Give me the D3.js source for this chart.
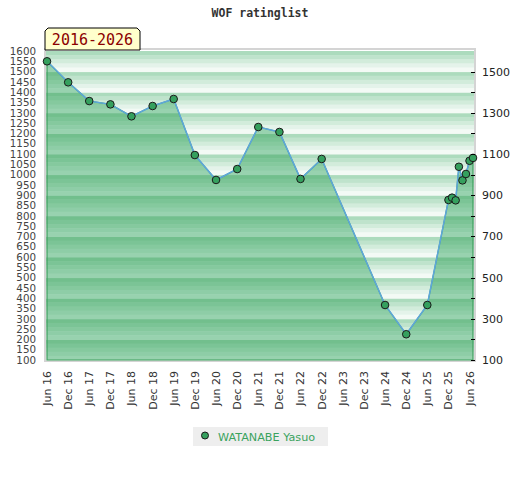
<!DOCTYPE html>
<html><head><meta charset="utf-8">
<script src="https://cdn.jsdelivr.net/npm/d3@7/dist/d3.min.js"></script>
<style>body{margin:0;background:#fff}svg{display:block}</style>
</head><body>
<svg id="c" width="520" height="480"></svg>
<script>
const title = "WOF ratinglist";
const periodLabel = "2016-2026";
const seriesName = "WATANABE Yasuo";
const dates = ["2016-06","2016-12","2017-06","2017-12","2018-06","2018-12","2019-06","2019-12","2020-06","2020-12","2021-06","2021-12","2022-06","2022-12","2024-06","2024-12","2025-06","2025-12","2026-01","2026-02","2026-03","2026-04","2026-05","2026-06","2026-07"];
const ratings = [1550,1448,1357,1341,1283,1333,1367,1095,974,1027,1231,1207,979,1076,367,225,367,877,888,875,1038,972,1003,1067,1081];
const xTickLabels = ["Jun 16","Dec 16","Jun 17","Dec 17","Jun 18","Dec 18","Jun 19","Dec 19","Jun 20","Dec 20","Jun 21","Dec 21","Jun 22","Dec 22","Jun 23","Dec 23","Jun 24","Dec 24","Jun 25","Dec 25","Jun 26"];
const leftTicks = d3.range(100, 1601, 50);
const rightTicks = d3.range(100, 1501, 100);
const rightLabels = [100,300,500,700,900,1100,1300,1500];

const parseM = d3.timeParse("%Y-%m");
const parseT = d3.timeParse("%b %y");
const data = dates.map((d,i)=>({date:parseM(d), v:ratings[i]}));

const L=47, R=473, T=51, B=360;
const x = d3.scaleTime().domain([parseM("2016-06"), parseM("2026-07")]).range([L,R]);
const y = d3.scaleLinear().domain([100,1600]).range([B,T]);

const svg = d3.select("#c");
const defs = svg.append("defs");

// title
svg.append("text").attr("x",260).attr("y",17).attr("text-anchor","middle")
  .attr("font-family","DejaVu Sans Mono").attr("font-weight","bold").attr("font-size",11.5)
  .attr("fill","#333").text(title);

// plot frame
svg.append("rect").attr("x",L-2).attr("y",T-2).attr("width",R-L+4).attr("height",B-T+3)
  .attr("fill","#fff").attr("stroke","#d4d4d4").attr("stroke-width",2);

const bgCols = ["#acdbbd","#bfe3cc","#d2ecdb","#e4f3ea","#f3faf5"];
const arCols = ["#72bf8d","#7bc496","#85c99e","#8ecda7","#98d2af"];
const stripeVals = d3.range(100,1600,100);
function stripes(g, cols){
  stripeVals.forEach(v=>{
    cols.forEach((c,k)=>{
      const top = v+100 - k*20, bot = v+100-(k+1)*20;
      g.append("rect").attr("x",L-1).attr("width",R-L+2)
        .attr("y",y(top)).attr("height",y(bot)-y(top)+0.5).attr("fill",c);
    });
  });
}
stripes(svg.append("g"), bgCols);

const area = d3.area().x(d=>x(d.date)).y0(y(100)).y1(d=>y(d.v));
defs.append("clipPath").attr("id","ac").append("path").attr("d",area(data));
stripes(svg.append("g").attr("clip-path","url(#ac)"), arCols);
svg.append("path").attr("d",area(data)).attr("fill","none").attr("stroke","#3f9f5f").attr("stroke-width",1.2);

// line
const line = d3.line().x(d=>x(d.date)).y(d=>y(d.v));
svg.append("path").attr("d",line(data)).attr("fill","none").attr("stroke","#5ea6dc").attr("stroke-width",1.5);

// points
svg.append("g").selectAll("circle").data(data).join("circle")
  .attr("cx",d=>x(d.date)).attr("cy",d=>y(d.v)).attr("r",3.8)
  .attr("fill","#35a05e").attr("stroke","#1a1a1a").attr("stroke-width",1);

// left axis labels
svg.append("g").selectAll("text").data(leftTicks).join("text")
  .attr("x",36).attr("y",d=>y(d)).attr("dy","0.36em").attr("text-anchor","end")
  .attr("font-family","DejaVu Sans").attr("font-size",10.3).attr("fill","#444").text(d=>d);

// right axis ticks
svg.append("g").selectAll("line").data(rightTicks).join("line")
  .attr("x1",R-2).attr("x2",R+2).attr("y1",d=>Math.round(y(d))+0.5).attr("y2",d=>Math.round(y(d))+0.5)
  .attr("stroke","#000").attr("stroke-width",1);
svg.append("g").selectAll("text").data(rightLabels).join("text")
  .attr("x",482).attr("y",d=>y(d)).attr("dy","0.36em")
  .attr("font-family","DejaVu Sans").attr("font-size",11).attr("fill","#222").text(d=>d);

// x labels
svg.append("g").selectAll("text").data(xTickLabels).join("text")
  .attr("transform",d=>`translate(${x(parseT(d))+4},371) rotate(-90)`)
  .attr("text-anchor","end")
  .attr("font-family","DejaVu Sans").attr("font-size",11).attr("fill","#333").text(d=>d);

// period label box
svg.append("path").attr("d",`M45,50 L45,31 L48,28 L137,28 L140,31 L140,50 Z`)
  .attr("fill","#ffffcc").attr("stroke","#000").attr("stroke-width",1);
svg.append("text").attr("x",92.5).attr("y",45).attr("text-anchor","middle")
  .attr("font-family","DejaVu Sans Mono").attr("font-size",15).attr("fill","#8b0000").text(periodLabel);

// legend
const lg = svg.append("g");
lg.append("rect").attr("x",193).attr("y",427).attr("width",135).attr("height",19).attr("fill","#eeeeee");
lg.append("circle").attr("cx",205).attr("cy",435.5).attr("r",3.5).attr("fill","#35a05e").attr("stroke","#1a1a1a");
lg.append("text").attr("x",218).attr("y",440.5).attr("font-family","DejaVu Sans").attr("font-size",11.2)
  .attr("fill","#3aa35e").text(seriesName);
</script>
</body></html>
